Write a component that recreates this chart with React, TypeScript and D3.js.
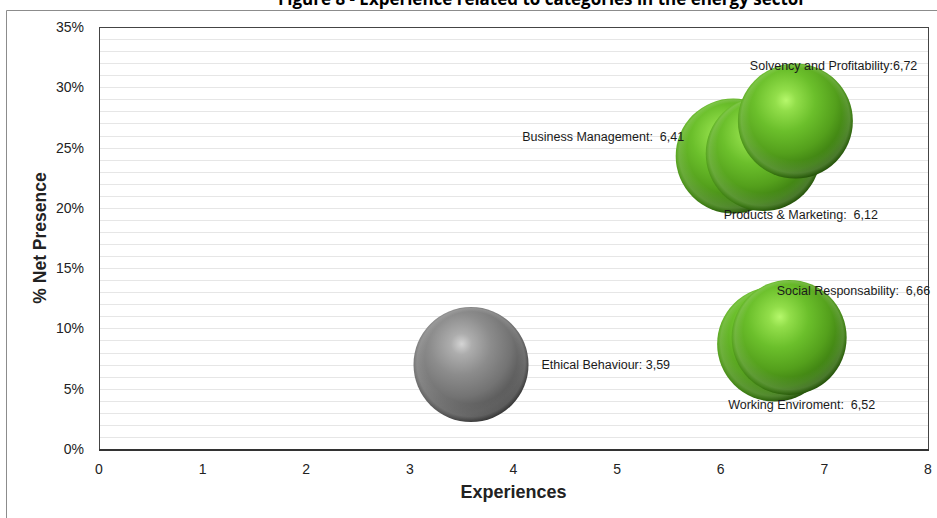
import React from "react";
import * as d3 from "d3";

const categories = [
  "Products & Marketing",
  "Business Management",
  "Solvency and Profitability",
  "Working Enviroment",
  "Social Responsability",
  "Ethical Behaviour",
];
const experiences = [6.12, 6.41, 6.72, 6.52, 6.66, 3.59];
const netPresence = [24.3, 24.5, 27.2, 8.7, 9.25, 7.0];
const labelTexts = [
  "Products & Marketing:  6,12",
  "Business Management:  6,41",
  "Solvency and Profitability:6,72",
  "Working Enviroment:  6,52",
  "Social Responsability:  6,66",
  "Ethical Behaviour: 3,59",
];
const bubbleColor = ["green", "green", "green", "green", "green", "gray"];
const xTicks = [0, 1, 2, 3, 4, 5, 6, 7, 8];
const yTicks = [0, 5, 10, 15, 20, 25, 30, 35];

// label offsets relative to bubble centre (px)
const labelDx = [-9.5, -241, -45.5, -46.5, -12.5, 70.5];
const labelDy = [62.5, -13, -51.5, 64.5, -42.5, 4];

const W = 937;
const H = 518;
const M = { left: 99, right: 928, top: 27, bottom: 449 };
const R = 57.5;

export default function App() {
  const x = d3.scaleLinear().domain([0, 8]).range([M.left, M.right]);
  const y = d3.scaleLinear().domain([0, 35]).range([M.bottom, M.top]);
  const minor = d3.range(1, 35);
  const font = "'Liberation Sans', Arial, sans-serif";

  return (
    <svg
      width={W}
      height={H}
      style={{ position: "absolute", left: 0, top: 0, background: "#fff" }}
    >
      <defs>
        <radialGradient id="gGreen" cx="0.38" cy="0.33" r="0.76" fx="0.42" fy="0.32">
          <stop offset="0" stopColor="#b6f86c" />
          <stop offset="0.12" stopColor="#92de4a" />
          <stop offset="0.35" stopColor="#6bbf2b" />
          <stop offset="0.6" stopColor="#54a01c" />
          <stop offset="0.8" stopColor="#3b7c10" />
          <stop offset="0.93" stopColor="#214f06" />
          <stop offset="1" stopColor="#143402" />
        </radialGradient>
        <radialGradient id="gGray" cx="0.38" cy="0.33" r="0.76" fx="0.42" fy="0.32">
          <stop offset="0" stopColor="#d4d4d4" />
          <stop offset="0.12" stopColor="#adadad" />
          <stop offset="0.35" stopColor="#8c8c8c" />
          <stop offset="0.6" stopColor="#737373" />
          <stop offset="0.8" stopColor="#545454" />
          <stop offset="0.93" stopColor="#333333" />
          <stop offset="1" stopColor="#1c1c1c" />
        </radialGradient>
        <radialGradient id="gRim" cx="0.5" cy="0.5" r="0.5" fx="0.5" fy="0.2">
          <stop offset="0.8" stopColor="#ffffff" stopOpacity="0" />
          <stop offset="0.94" stopColor="#ffffff" stopOpacity="0.14" />
          <stop offset="1" stopColor="#ffffff" stopOpacity="0" />
        </radialGradient>
      </defs>

      {/* title (cropped at top as in the reference) */}
      <text
        x={542}
        y={5}
        textAnchor="middle"
        fontFamily="'Open Sans', 'Liberation Sans', sans-serif"
        fontWeight="bold"
        fontSize={17}
        textLength={528}
        lengthAdjust="spacingAndGlyphs"
        fill="#000"
      >
        Figure 8 - Experience related to categories in the energy sector
      </text>

      {/* outer frame */}
      <line x1={6.5} y1={10.5} x2={W} y2={10.5} stroke="#8c8c8c" strokeWidth={1} />
      <line x1={6.5} y1={10.5} x2={6.5} y2={H} stroke="#8c8c8c" strokeWidth={1} />

      {/* minor gridlines */}
      {minor.map((v) => (
        <line
          key={v}
          x1={M.left}
          x2={M.right}
          y1={Math.round(y(v)) + 0.5}
          y2={Math.round(y(v)) + 0.5}
          stroke="#e6e6e6"
          strokeWidth={1}
        />
      ))}

      {/* plot border */}
      <rect
        x={M.left + 0.5}
        y={M.top + 0.5}
        width={M.right - M.left}
        height={M.bottom - M.top}
        fill="none"
        stroke="#444"
        strokeWidth={1}
      />
      <line x1={M.left} x2={M.right + 1} y1={M.bottom + 1} y2={M.bottom + 1} stroke="#333" strokeWidth={2} />

      {/* y tick labels */}
      {yTicks.map((t) => (
        <text
          key={t}
          x={84}
          y={y(t)}
          dy="0.36em"
          textAnchor="end"
          fontFamily={font}
          fontSize={14}
          fill="#222"
        >
          {t + "%"}
        </text>
      ))}

      {/* x tick labels */}
      {xTicks.map((t) => (
        <text
          key={t}
          x={x(t)}
          y={474}
          textAnchor="middle"
          fontFamily={font}
          fontSize={14}
          fill="#222"
        >
          {t}
        </text>
      ))}

      {/* axis titles */}
      <text
        x={(M.left + M.right) / 2}
        y={498}
        textAnchor="middle"
        fontFamily={font}
        fontWeight="bold"
        fontSize={18}
        fill="#222"
      >
        Experiences
      </text>
      <text
        transform={`translate(46, ${(M.top + M.bottom) / 2}) rotate(-90)`}
        textAnchor="middle"
        fontFamily={font}
        fontWeight="bold"
        fontSize={17.5}
        fill="#222"
      >
        % Net Presence
      </text>

      {/* bubbles */}
      {categories.map((c, i) => (
        <g key={c}>
          <circle
            cx={x(experiences[i])}
            cy={y(netPresence[i])}
            r={R}
            fill={bubbleColor[i] === "green" ? "url(#gGreen)" : "url(#gGray)"}
          />
          <circle cx={x(experiences[i])} cy={y(netPresence[i])} r={R} fill="url(#gRim)" />
        </g>
      ))}

      {/* labels */}
      {categories.map((c, i) => (
        <text
          key={"l" + c}
          x={x(experiences[i]) + labelDx[i]}
          y={y(netPresence[i]) + labelDy[i]}
          fontFamily={font}
          fontSize={12.5}
          fill="#1a1a1a"
          style={{ whiteSpace: "pre" }}
        >
          {labelTexts[i]}
        </text>
      ))}
    </svg>
  );
}
